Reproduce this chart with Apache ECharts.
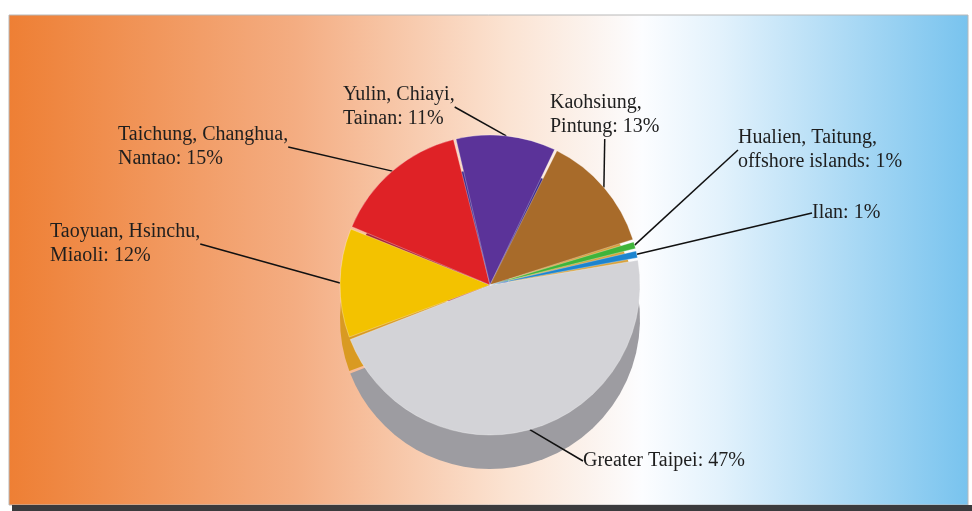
<!DOCTYPE html>
<html>
<head>
<meta charset="utf-8">
<script src="https://cdn.jsdelivr.net/npm/echarts@6/dist/echarts.min.js"></script>
<style>
    html, body { margin: 0; padding: 0; background: #fff; }
</style>
</head>
<body>
<div id="pieChart" style="width: 972px; height: 511px;"></div>
<script>
    // regions and their share of the total (%)
    var regions = ['Greater Taipei', 'Taoyuan, Hsinchu,\nMiaoli', 'Taichung, Changhua,\nNantao',
        'Yulin, Chiayi,\nTainan', 'Kaohsiung,\nPintung', 'Hualien, Taitung,\noffshore islands', 'Ilan'];
    var shares = [47, 12, 15, 11, 13, 1, 1];

    var topColors = ['#d3d3d7', '#f3c200', '#df2226', '#5b3399', '#a86b2a', '#3fb43a', '#1c84cf'];
    var sideColors = ['#9d9ca1', '#d99a22', '#a8223a', '#3b2a8c', '#d7a13c', '#124a2c', '#2bb3e3'];

    // where each label sits (top-left corner)
    var labelPos = [[583, 449], [50, 220], [118, 123], [343, 83], [550, 91], [738, 126], [812, 201]];

    var chartDom = document.getElementById('pieChart');
    var myChart = echarts.init(chartDom);
    var option;

    var topData = regions.map(function (name, i) {
        return {name: name, value: shares[i], itemStyle: {color: topColors[i]}};
    });
    var sideData = regions.map(function (name, i) {
        return {name: name, value: shares[i], itemStyle: {color: sideColors[i]}};
    });

    option = {
        animation: false,
        backgroundColor: '#fff',
        graphic: [
            {
                type: 'rect',
                z: -10,
                shape: {x: 9, y: 15, width: 959, height: 490},
                style: {
                    fill: new echarts.graphic.LinearGradient(0, 0, 1, 0, [
                        {offset: 0, color: '#ee7f34'},
                        {offset: 0.3, color: '#f4ad82'},
                        {offset: 0.52, color: '#fbe3d2'},
                        {offset: 0.66, color: '#fcfdff'},
                        {offset: 0.74, color: '#e3f2fc'},
                        {offset: 1, color: '#78c3ee'}
                    ]),
                    stroke: '#b8b8b8',
                    lineWidth: 1
                }
            },
            {
                type: 'rect',
                z: -9,
                shape: {x: 12, y: 505, width: 960, height: 6},
                style: {fill: '#3b3b3d'}
            }
        ],
        series: [
            {
                name: 'side',
                type: 'pie',
                silent: true,
                z: 1,
                center: [490, 319],
                radius: 150,
                startAngle: 10,
                padAngle: 1,
                label: {show: false},
                labelLine: {show: false},
                data: sideData
            },
            {
                name: 'top',
                type: 'pie',
                z: 2,
                center: [490, 285],
                radius: 150,
                startAngle: 10,
                padAngle: 1,
                itemStyle: {borderColor: 'rgba(255,255,255,0.6)', borderWidth: 0.5},
                label: {
                    show: true,
                    formatter: '{b}: {c}%',
                    fontFamily: '"Liberation Serif", "Times New Roman", serif',
                    fontSize: 20,
                    lineHeight: 24,
                    color: '#1e1e1e',
                    align: 'left'
                },
                labelLine: {
                    show: true,
                    length: 20,
                    length2: 0,
                    lineStyle: {color: '#111', width: 1.5}
                },
                labelLayout: function (params) {
                    var p = labelPos[params.dataIndex];
                    return {x: p[0], y: p[1], align: 'left', verticalAlign: 'top'};
                },
                data: topData
            }
        ]
    };

    option && myChart.setOption(option);
</script>
</body>
</html>
